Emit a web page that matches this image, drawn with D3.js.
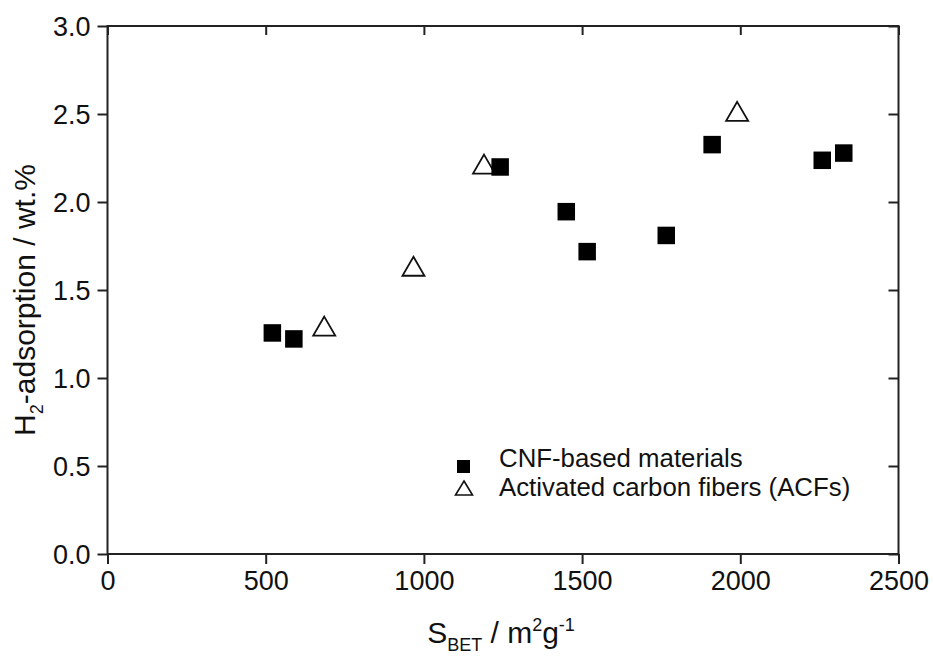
<!DOCTYPE html>
<html><head><meta charset="utf-8">
<script src="https://cdn.jsdelivr.net/npm/d3@7"></script>
<style>
body{margin:0;background:#fff;}
svg{display:block;font-family:"Liberation Sans",Arial,sans-serif;}
</style></head>
<body>
<script>
const cnfX = [521, 589, 1241, 1450, 1516, 1766, 1911, 2259, 2327];
const cnfY = [1.256, 1.222, 2.199, 1.945, 1.718, 1.81, 2.326, 2.237, 2.278];
const acfX = [685, 967, 1190, 1990];
const acfY = [1.295, 1.635, 2.215, 2.515];
const xTicks = [0, 500, 1000, 1500, 2000, 2500];
const yTicks = [0.0, 0.5, 1.0, 1.5, 2.0, 2.5, 3.0];
const legendLabels = ["CNF-based materials", "Activated carbon fibers (ACFs)"];

const W = 933, H = 662;
const svg = d3.select("body").append("svg").attr("width", W).attr("height", H);
const x = d3.scaleLinear().domain([0, 2500]).range([107.5, 898.5]);
const y = d3.scaleLinear().domain([0, 3]).range([554, 26]);
const fs = 27;

const axB = svg.append("g").attr("transform", `translate(0,${y(0)})`)
  .call(d3.axisBottom(x).tickValues(xTicks).tickSize(10).tickPadding(5).tickFormat(d3.format("d")));
const axL = svg.append("g").attr("transform", `translate(${x(0)},0)`)
  .call(d3.axisLeft(y).tickValues(yTicks).tickSize(10).tickPadding(7).tickFormat(d3.format(".1f")));
const axT = svg.append("g").attr("transform", `translate(0,${y(3)})`)
  .call(d3.axisBottom(x).tickValues(xTicks).tickSize(9).tickFormat(""));
const axR = svg.append("g").attr("transform", `translate(${x(2500)},0)`)
  .call(d3.axisLeft(y).tickValues(yTicks).tickSize(10).tickFormat(""));
[axB, axL, axT, axR].forEach(a => {
  a.select(".domain").attr("stroke", "#222").attr("stroke-width", 2).attr("d", null);
  a.selectAll(".tick line").attr("stroke", "#222").attr("stroke-width", 2);
  a.selectAll("text").attr("fill", "#111").style("font-size", fs + "px").style("font-family", "'Liberation Sans',Arial,sans-serif");
});
// frame
svg.append("rect").attr("x", x(0)).attr("y", y(3)).attr("width", x(2500) - x(0)).attr("height", y(0) - y(3))
  .attr("fill", "none").attr("stroke", "#222").attr("stroke-width", 2);
axL.selectAll("text").attr("dy", "0.36em");
axB.selectAll("text").attr("dy", "0.76em");

const tri = (hw, hh) => `M0,${-hh}L${hw},${hh}L${-hw},${hh}Z`;

// ACF triangles
svg.append("g").selectAll("path").data(acfX).join("path")
  .attr("d", tri(11, 9.5))
  .attr("transform", (d, i) => `translate(${x(d)},${y(acfY[i])})`)
  .attr("fill", "#fff").attr("stroke", "#111").attr("stroke-width", 1.8);

// CNF squares
const s = 17.5;
svg.append("g").selectAll("rect").data(cnfX).join("rect")
  .attr("x", d => x(d) - s / 2).attr("y", (d, i) => y(cnfY[i]) - s / 2)
  .attr("width", s).attr("height", s).attr("fill", "#000");

// legend
const lg = svg.append("g");
lg.append("rect").attr("x", 457).attr("y", 460).attr("width", 13).attr("height", 13).attr("fill", "#000");
lg.append("path").attr("d", tri(8.5, 7)).attr("transform", "translate(464,488)")
  .attr("fill", "#fff").attr("stroke", "#111").attr("stroke-width", 1.6);
lg.selectAll("text").data(legendLabels).join("text")
  .attr("x", 499).attr("y", (d, i) => 467 + i * 28.5)
  .style("font-size", "25.8px").attr("fill", "#111").text(d => d);

// y axis title
const yt = svg.append("text").attr("transform", `translate(35,300) rotate(-90)`)
  .attr("text-anchor", "middle").style("font-size", "30px").attr("fill", "#111");
yt.append("tspan").text("H");
yt.append("tspan").attr("dy", 8).style("font-size", "18px").text("2");
yt.append("tspan").attr("dy", -8).text("-adsorption / wt.%");

// x axis title
const xt = svg.append("text").attr("x", 501).attr("y", 643)
  .attr("text-anchor", "middle").style("font-size", "30px").attr("fill", "#111");
xt.append("tspan").text("S");
xt.append("tspan").attr("dy", 8).style("font-size", "18px").text("BET");
xt.append("tspan").attr("dy", -8).text(" / m");
xt.append("tspan").attr("dy", -12).style("font-size", "18px").text("2");
xt.append("tspan").attr("dy", 12).text("g");
xt.append("tspan").attr("dy", -12).style("font-size", "18px").text("-1");
</script>
</body></html>
